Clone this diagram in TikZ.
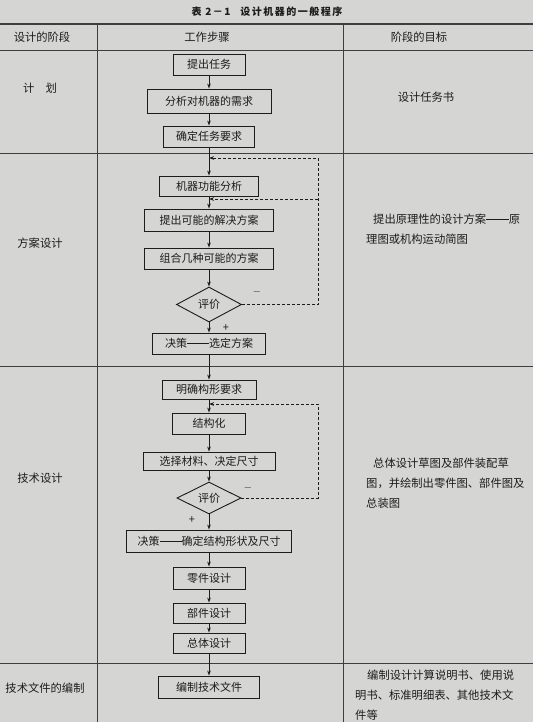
\documentclass[tikz,border=0pt]{standalone}
\usepackage{fontspec}
\setmainfont{Noto Sans CJK SC}
\newfontfamily\titlefont{Noto Sans CJK SC}[LetterSpace=15]
\usetikzlibrary{shapes.geometric,arrows.meta}
\definecolor{paper}{HTML}{D5D5D3}
\definecolor{ink}{HTML}{1C1C1C}
\newcommand{\longdash}{\rule[0.36em]{2em}{0.55pt}}
\begin{document}
\begin{tikzpicture}[x=1pt,y=-1pt,
    stepbox/.style={draw=ink,line width=0.9pt,minimum height=21pt,inner sep=0pt,
      font=\fontsize{11}{13}\selectfont,text=ink},
    judge/.style={diamond,aspect=2,draw=ink,line width=0.9pt,minimum width=65pt,
      minimum height=35pt,inner sep=0pt,font=\fontsize{11}{13}\selectfont,text=ink},
    flow/.style={draw=ink,line width=0.9pt,-{Stealth[length=5pt,width=3.6pt]}},
    back/.style={flow,dash pattern=on 3pt off 2pt},
    gridline/.style={draw=ink!85,line width=0.7pt},
    cell/.style={font=\fontsize{11.3}{20}\selectfont,text=ink,inner sep=0pt},
    sign/.style={font=\fontsize{11}{12}\selectfont,text=ink,inner sep=0pt}]

    \pgfmathsetmacro{\fx}{209}
    \pgfmathsetmacro{\rx}{318}

    \fill[paper] (0,0) rectangle (533,722);
    \useasboundingbox (0,0) rectangle (533,722);

    % table
    \node[text=ink,font=\titlefont\bfseries\fontsize{10}{12}\selectfont] (title) at (267,12) {表 2－1\quad 设计机器的一般程序};
    \draw[gridline,line width=1.4pt] (0,24) -- (533,24);
    \foreach \y in {50,153,366,663} {
        \draw[gridline] (0,\y) -- (533,\y);
    }
    \foreach \x in {97,343} {
        \draw[gridline] (\x,24) -- (\x,722);
    }

    \node[cell] (headstage) at (42,37) {设计的阶段};
    \node[cell] (headstep) at (207,37) {工作步骤};
    \node[cell] (headgoal) at (419,37) {阶段的目标};

    \node[cell] (plan) at (40,88) {计\quad 划};
    \node[cell] (scheme) at (40,243) {方案设计};
    \node[cell] (tech) at (40,478) {技术设计};
    \node[cell] (docs) at (45,688) {技术文件的编制};

    \node[cell] (goal1) at (426,97) {设计任务书};
    \node[cell,anchor=west,align=left] (goal2) at (366,229) {\hspace{7pt}提出原理性的设计方案\longdash 原\\理图或机构运动简图};
    \node[cell,anchor=west,align=left] (goal3) at (366,483) {\hspace{7pt}总体设计草图及部件装配草\\图，并绘制出零件图、部件图及\\总装图};
    \node[cell,anchor=west,align=left] (goal4) at (355,695) {\hspace{12pt}编制设计计算说明书、使用说\\明书、标准明细表、其他技术文\\件等};

    % steps
    \node[stepbox,minimum width=72pt] (task) at (\fx,64.5) {提出任务};
    \node[stepbox,minimum width=124pt,minimum height=24pt] (need) at (\fx,101) {分析对机器的需求};
    \node[stepbox,minimum width=91pt] (req) at (\fx,136.5) {确定任务要求};
    \node[stepbox,minimum width=99pt,minimum height=20pt] (func) at (\fx,186) {机器功能分析};
    \node[stepbox,minimum width=129pt,minimum height=22pt] (solve) at (\fx,220) {提出可能的解决方案};
    \node[stepbox,minimum width=129pt] (combine) at (\fx,258.5) {组合几种可能的方案};
    \node[judge] (evalA) at (\fx,304.5) {评价};
    \node[stepbox,minimum width=113pt] (pick) at (\fx,343.5) {决策\longdash 选定方案};
    \node[stepbox,minimum width=94pt,minimum height=19pt] (form) at (\fx,389.5) {明确构形要求};
    \node[stepbox,minimum width=73pt] (struct) at (\fx,423.5) {结构化};
    \node[stepbox,minimum width=132pt,minimum height=18pt] (mat) at (\fx,461) {选择材料、决定尺寸};
    \node[judge,minimum width=64pt,minimum height=32pt] (evalB) at (\fx,498) {评价};
    \node[stepbox,minimum width=165pt,minimum height=22pt] (decide) at (\fx,541) {决策\longdash 确定结构形状及尺寸};
    \node[stepbox,minimum width=72pt,minimum height=22pt] (part) at (\fx,578) {零件设计};
    \node[stepbox,minimum width=72pt,minimum height=20pt] (unit) at (\fx,613) {部件设计};
    \node[stepbox,minimum width=72pt,minimum height=20pt] (whole) at (\fx,643) {总体设计};
    \node[stepbox,minimum width=101pt,minimum height=22pt] (write) at (\fx,687) {编制技术文件};

    \coordinate (backA) at (\fx,158);
    \coordinate (backB) at (\fx,199);
    \coordinate (backC) at (\fx,404);
    \coordinate (turnA) at (\rx,158);
    \coordinate (turnB) at (\rx,199);
    \coordinate (turnC) at (\rx,404);

    \foreach \a/\b in {task/need,need/req,req/func,func/solve,solve/combine,combine/evalA,
        evalA/pick,pick/form,form/struct,struct/mat,mat/evalB,evalB/decide,decide/part,
        part/unit,unit/whole,whole/write} {
        \draw[flow] (\a) -- (\b);
    }

    % feedback
    \draw[back] (evalA.east) -- (evalA.east -| turnA) -- (turnA) -- (backA);
    \draw[back] (turnB) -- (backB);
    \draw[back] (evalB.east) -- (evalB.east -| turnC) -- (turnC) -- (backC);

    \node[sign] (minusA) at (257,292) {$-$};
    \node[sign] (plusA) at (226,328) {+};
    \node[sign] (minusB) at (248,488) {$-$};
    \node[sign] (plusB) at (192,520) {+};
\end{tikzpicture}
\end{document}
